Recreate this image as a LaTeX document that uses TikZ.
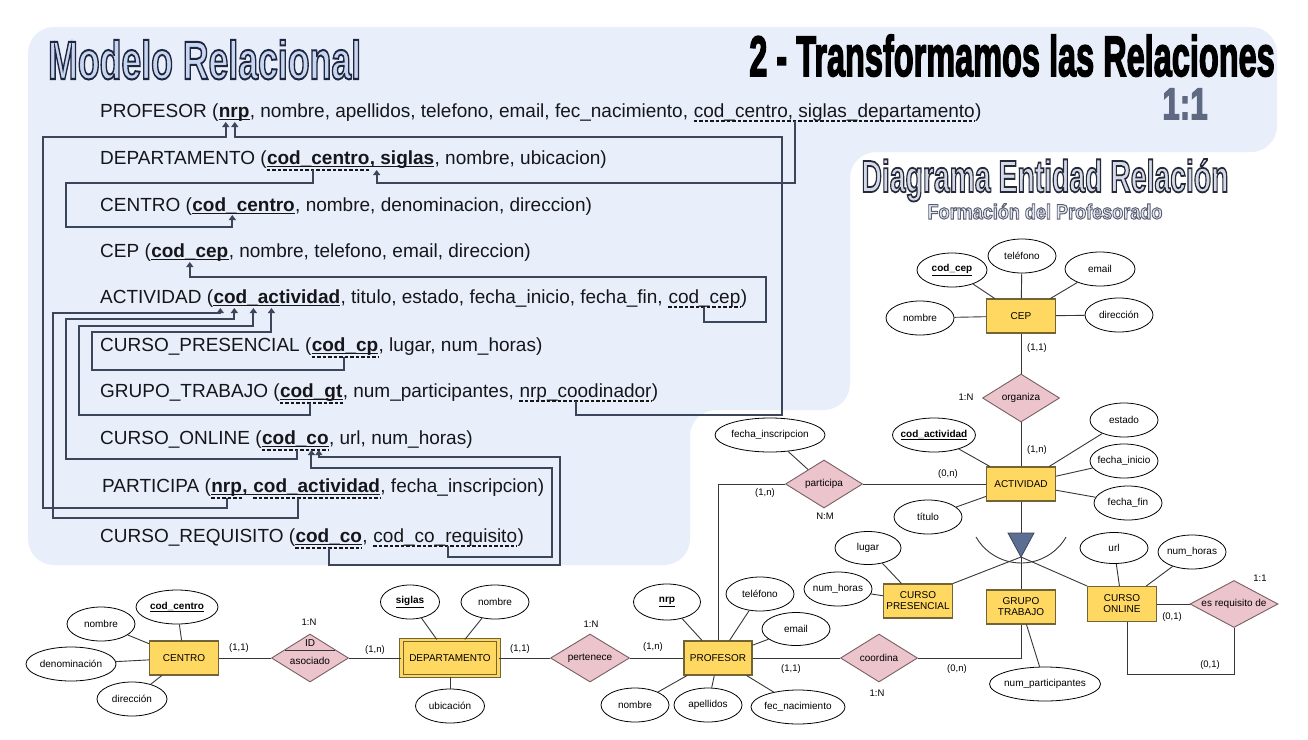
\documentclass[tikz,border=0pt]{standalone}
\usepackage{fontspec}
\setmainfont{Liberation Sans}
\usetikzlibrary{shapes.geometric, arrows.meta, calc}

\definecolor{panelcol}{RGB}{232,238,250}
\definecolor{txtcol}{RGB}{22,22,26}
\definecolor{linkcol}{RGB}{60,70,90}
\definecolor{entfill}{RGB}{255,216,98}
\definecolor{entdraw}{RGB}{115,100,55}
\definecolor{relfill}{RGB}{236,196,204}
\definecolor{reldraw}{RGB}{120,95,100}
\definecolor{erlinecol}{RGB}{55,55,55}
\definecolor{isafill}{RGB}{92,110,145}
\definecolor{mrfill}{RGB}{200,214,240}
\definecolor{derfill}{RGB}{212,218,232}
\definecolor{fpfill}{RGB}{232,234,242}
\definecolor{onecol}{RGB}{95,105,130}

\newcommand{\relfont}{\fontsize{19}{22}\selectfont}
\newcommand{\erfont}{\fontsize{10}{11}\selectfont}
\newcommand{\cardfont}{\fontsize{9.5}{11}\selectfont}
% text filled with colour #1, outlined with the pdf stroke settings #2
\newcommand{\outl}[3]{{\color{#1}\special{pdf:code #2 2 Tr}#3\special{pdf:code 0 Tr}}}

\begin{document}
\begin{tikzpicture}[x=1pt, y=-1pt,
    seg/.style={inner sep=0pt, anchor=base west, font=\relfont, text=txtcol},
    pkey/.style={font=\relfont\bfseries},
    spaced/.style={xshift=5.3pt},
    pkul/.style={draw=txtcol, line width=1.5pt},
    fkul/.style={draw=txtcol, line width=1.2pt, dash pattern=on 3.5pt off 2pt},
    fkarrow/.style={draw=linkcol, line width=2pt, -{Triangle[length=5pt,width=7pt]}},
    ent/.style={rectangle, draw=entdraw, fill=entfill, line width=1.1pt, minimum width=69, minimum height=34, inner sep=0pt, font=\erfont, align=center},
    attr/.style={ellipse, draw=black, fill=white, line width=0.8pt, minimum width=68, minimum height=34, inner xsep=-10pt, inner ysep=0pt, font=\erfont},
    rel/.style={diamond, draw=reldraw, fill=relfill, line width=0.9pt, minimum width=77, minimum height=48, inner sep=0pt},
    card/.style={font=\cardfont, inner sep=0pt},
    erline/.style={draw=erlinecol, line width=0.9pt},
    every label/.style={font=\erfont, inner sep=0pt}]

  \useasboundingbox (0,0) rectangle (1308,739);
  \fill[white] (0,0) rectangle (1308,739);

  % Panel of the relational model
  \fill[panelcol, rounded corners=26pt] (28,27) -- (1277,27) -- (1277,152) -- (850,152) -- (850,410)
    -- (690,410) -- (690,565) -- (28,565) -- cycle;

  % Titles
  \node[anchor=base west, inner sep=0pt] (mrtitle) at (48,79)
    {\fontsize{54}{56}\selectfont\bfseries\scalebox{0.66}[1]{\outl{mrfill}{0.12 0.15 0.25 RG 2 w}{Modelo Relacional}}};
  \node[anchor=base east, inner sep=0pt, text depth=0pt] (trtitle) at (1275,76)
    {\fontsize{57}{60}\selectfont\bfseries\scalebox{0.57}[1]{\outl{black}{0 0 0 RG 1.8 w}{2 - Transformamos las Relaciones}}};
  \node[anchor=base, inner sep=0pt] (onetitle) at (1185,119)
    {\fontsize{44}{46}\selectfont\bfseries\scalebox{0.71}[1]{\outl{onecol}{0.37 0.41 0.51 RG 1.5 w}{1:1}}};
  \node[anchor=base, inner sep=0pt] (dertitle) at (1045,192)
    {\fontsize{45}{48}\selectfont\bfseries\scalebox{0.63}[1]{\outl{derfill}{0.15 0.16 0.22 RG 1.8 w}{Diagrama Entidad Relación}}};
  \node[anchor=base, inner sep=0pt] (fptitle) at (1045,219)
    {\fontsize{21}{24}\selectfont\bfseries\scalebox{0.86}[1]{\outl{fpfill}{0.35 0.37 0.45 RG 1 w}{Formación del Profesorado}}};

  % Relations
  \node[seg] (p0) at (100,117) {PROFESOR (};
  \node[seg, pkey] (pnrp) at (p0.base east) {nrp};
  \node[seg] (p1) at (pnrp.base east) {, nombre, apellidos, telefono, email, fec\_nacimiento,};
  \node[seg, spaced] (pfk) at (p1.base east) {cod\_centro, siglas\_departamento};
  \node[seg] (p2) at (pfk.base east) {)};

  \node[seg] (d0) at (100,164) {DEPARTAMENTO (};
  \node[seg, pkey] (dcc) at (d0.base east) {cod\_centro};
  \node[seg, pkey] (dsg) at (dcc.base east) {, siglas};
  \node[seg] (d1) at (dsg.base east) {, nombre, ubicacion)};

  \node[seg] (c0) at (100,211) {CENTRO (};
  \node[seg, pkey] (ccc) at (c0.base east) {cod\_centro};
  \node[seg] (c1) at (ccc.base east) {, nombre, denominacion, direccion)};

  \node[seg] (e0) at (100,257) {CEP (};
  \node[seg, pkey] (ecep) at (e0.base east) {cod\_cep};
  \node[seg] (e1) at (ecep.base east) {, nombre, telefono, email, direccion)};

  \node[seg] (a0) at (100,303) {ACTIVIDAD (};
  \node[seg, pkey] (aact) at (a0.base east) {cod\_actividad};
  \node[seg] (a1) at (aact.base east) {, titulo, estado, fecha\_inicio, fecha\_fin,};
  \node[seg, spaced] (acep) at (a1.base east) {cod\_cep};
  \node[seg] (a2) at (acep.base east) {)};

  \node[seg] (r0) at (100,351) {CURSO\_PRESENCIAL (};
  \node[seg, pkey] (rcp) at (r0.base east) {cod\_cp};
  \node[seg] (r1) at (rcp.base east) {, lugar, num\_horas)};

  \node[seg] (g0) at (100,397) {GRUPO\_TRABAJO (};
  \node[seg, pkey] (ggt) at (g0.base east) {cod\_gt};
  \node[seg] (g1) at (ggt.base east) {, num\_participantes,};
  \node[seg, spaced] (gnrp) at (g1.base east) {nrp\_coodinador};
  \node[seg] (g2) at (gnrp.base east) {)};

  \node[seg] (o0) at (100,444) {CURSO\_ONLINE (};
  \node[seg, pkey] (oco) at (o0.base east) {cod\_co};
  \node[seg] (o1) at (oco.base east) {, url, num\_horas)};

  \node[seg] (t0) at (102,492) {PARTICIPA (};
  \node[seg, pkey] (tnrp) at (t0.base east) {nrp};
  \node[seg, pkey] (tcm) at (tnrp.base east) {,};
  \node[seg, pkey, spaced] (tact) at (tcm.base east) {cod\_actividad};
  \node[seg] (t1) at (tact.base east) {, fecha\_inscripcion)};

  \node[seg] (q0) at (100,542) {CURSO\_REQUISITO (};
  \node[seg, pkey] (qco) at (q0.base east) {cod\_co};
  \node[seg] (q1) at (qco.base east) {,};
  \node[seg, spaced] (qreq) at (q1.base east) {cod\_co\_requisito};
  \node[seg] (q2) at (qreq.base east) {)};

  % Primary keys
  \foreach \n in {pnrp, ccc, ecep, aact, rcp, ggt, oco, qco}
    \draw[pkul] ([yshift=-2.5pt]\n.base west) -- ([yshift=-2.5pt]\n.base east);
  \draw[pkul] ([yshift=-2.5pt]dcc.base west) -- ([yshift=-2.5pt]dsg.base east);
  \draw[pkul] ([yshift=-2.5pt]tnrp.base west) -- ([yshift=-2.5pt]tact.base east);

  % Foreign keys
  \foreach \n/\d in {pfk/4, acep/4, gnrp/4, qreq/4, dcc/6, rcp/6, ggt/6, oco/6, tnrp/6, tact/6, qco/6}
    \draw[fkul] ([yshift=-\d pt]\n.base west) -- ([yshift=-\d pt]\n.base east);

  % References to PROFESOR
  \coordinate (s1) at ($(tnrp.base west)!0.5!(tnrp.base east)+(0,6)$);
  \coordinate (t1) at ($(pnrp.base west)!0.23!(pnrp.base east)+(0,5)$);
  \draw[fkarrow] (s1) |- (43,508) |- ([yshift=-15pt]t1) -- (t1);
  \coordinate (s2) at ($(gnrp.base west)!0.43!(gnrp.base east)+(0,4)$);
  \coordinate (t2) at ($(pnrp.base west)!0.52!(pnrp.base east)+(0,5)$);
  \draw[fkarrow] (s2) |- (782,415) |- ([yshift=-15pt]t2) -- (t2);

  % References to DEPARTAMENTO and CENTRO
  \coordinate (s3) at ($(pfk.base west)!0.36!(pfk.base east)+(0,4)$);
  \coordinate (t3) at ($(dsg.base west)+(7,6)$);
  \draw[fkarrow] (s3) |- ([yshift=-13pt]t3) -- (t3);
  \coordinate (s4) at ($(dcc.base west)!0.45!(dcc.base east)+(0,6)$);
  \coordinate (t4) at ($(ccc.base west)!0.39!(ccc.base east)+(0,4)$);
  \draw[fkarrow] (s4) |- (66,183) |- ([yshift=-12pt]t4) -- (t4);

  % Reference to CEP
  \coordinate (s5) at ($(acep.base west)!0.49!(acep.base east)+(0,4)$);
  \coordinate (t5) at ($(ecep.base west)!0.5!(ecep.base east)+(0,5)$);
  \draw[fkarrow] (s5) |- (766,322) |- ([yshift=-15pt]t5) -- (t5);

  % References to ACTIVIDAD
  \foreach \src/\sf/\x/\y/\tf/\h in {tact/0.35/53/518/0.055/5, oco/0.53/66/459/0.165/11, ggt/0.48/79/415/0.315/18, rcp/0.48/92/370/0.457/24}
    \draw[fkarrow] ($(\src.base west)!\sf!(\src.base east)+(0,6)$) |- (\x,\y)
      |- ($(aact.base west)!\tf!(aact.base east)+(0,5+\h)$) -- ($(aact.base west)!\tf!(aact.base east)+(0,5)$);

  % References to CURSO_ONLINE
  \draw[fkarrow] ($(qco.base west)!0.5!(qco.base east)+(0,6)$) |- (560,565)
    |- ($(oco.base west)!0.85!(oco.base east)+(0,13)$) -- ($(oco.base west)!0.85!(oco.base east)+(0,6)$);
  \draw[fkarrow] ($(qreq.base west)!0.52!(qreq.base east)+(0,4)$) |- (552,557)
    |- ($(oco.base west)!0.74!(oco.base east)+(0,24)$) -- ($(oco.base west)!0.74!(oco.base east)+(0,6)$);

  % ER: CEP and ACTIVIDAD
  \node[ent] (CEP) at (1021,316) {CEP};
  \node[attr, minimum width=70] (CEPcod) at (952,270) {\underline{\textbf{cod\_cep}}};
  \node[attr] (CEPtel) at (1022,256) {teléfono};
  \node[attr, minimum width=70] (CEPmail) at (1100,269) {email};
  \node[attr] (CEPnom) at (920,318) {nombre};
  \node[attr] (CEPdir) at (1119,315) {dirección};
  \node[rel, label=center:organiza] (ORG) at (1021,398) {};
  \node[ent] (ACT) at (1021,484) {ACTIVIDAD};
  \node[attr, minimum width=83] (ACTcod) at (934,435) {\underline{\textbf{cod\_actividad}}};
  \node[attr] (ACTest) at (1124,420) {estado};
  \node[attr] (ACTini) at (1124,461) {fecha\_inicio};
  \node[attr] (ACTfin) at (1128,503) {fecha\_fin};
  \node[attr] (ACTtit) at (928,517) {título};
  \node[attr, minimum width=110] (PARTfec) at (770,435) {fecha\_inscripcion};
  \node[rel, label=center:participa] (PART) at (824,484) {};

  % ER: subtypes
  \coordinate (ISAtop) at (1021,533);
  \coordinate (ISA) at (1021,557);
  \node[ent] (CPRES) at (918,601) {CURSO\\PRESENCIAL};
  \node[attr, minimum width=66, minimum height=33] (CPlug) at (868,548) {lugar};
  \node[attr] (CPhor) at (838,589) {num\_horas};
  \node[ent] (GTRA) at (1021,607) {GRUPO\\TRABAJO};
  \node[attr, minimum width=111] (GTpart) at (1045,684) {num\_participantes};
  \node[ent, minimum height=35] (CONL) at (1122,604) {CURSO\\ONLINE};
  \node[attr, minimum height=31] (COurl) at (1114,548) {url};
  \node[attr] (COhor) at (1192,552) {num\_horas};
  \node[rel, minimum width=88, minimum height=47, label=center:es requisito de] (REQ) at (1234,604) {};

  % ER: CENTRO, DEPARTAMENTO, PROFESOR
  \node[ent] (CENTRO) at (184,658) {CENTRO};
  \node[attr, minimum width=82] (CENcod) at (177,607) {\underline{\textbf{cod\_centro}}};
  \node[attr] (CENnom) at (101,624) {nombre};
  \node[attr, minimum width=90] (CENden) at (71,664) {denominación};
  \node[attr, minimum width=70] (CENdir) at (132,699) {dirección};
  \node[rel] (ASOC) at (310,658) {};
  \node[font=\erfont, inner sep=0pt] (ASOCid) at (310,643) {ID};
  \node[font=\erfont, inner sep=0pt] (ASOCtx) at (310,661) {asociado};
  \node[ent, minimum width=97, minimum height=36, double=entfill, double distance=2.2pt] (DEPT) at (450,658) {DEPARTAMENTO};
  \node[attr, minimum width=59] (DEPsig) at (410,602) {\underline{\textbf{siglas}}};
  \node[attr] (DEPnom) at (495,602) {nombre};
  \node[attr, minimum width=69] (DEPubi) at (450,706) {ubicación};
  \node[rel, minimum width=79, label=center:pertenece] (PERT) at (590,658) {};
  \node[ent, minimum width=68] (PROF) at (718,658) {PROFESOR};
  \node[attr, minimum width=67, minimum height=36] (PROFnrp) at (667,602) {\underline{\textbf{nrp}}};
  \node[attr] (PROFtel) at (760,594) {teléfono};
  \node[attr, minimum height=33] (PROFmail) at (796,629) {email};
  \node[attr] (PROFnom) at (635,705) {nombre};
  \node[attr] (PROFape) at (708,705) {apellidos};
  \node[attr, minimum width=94] (PROFfec) at (798,707) {fec\_nacimiento};
  \node[rel, label=center:coordina] (COORD) at (879,658) {};

  % ER connectors
  \foreach \i/\j in {CEP/CEPcod, CEP/CEPtel, CEP/CEPmail, CEP/CEPnom, CEP/CEPdir, CEP/ORG, ORG/ACT,
      ACT/ACTcod, ACT/ACTest, ACT/ACTini, ACT/ACTfin, ACT/ACTtit, PART/ACT, PART/PARTfec,
      CPRES/CPlug, CPRES/CPhor, GTRA/GTpart, CONL/COurl, CONL/COhor, CONL/REQ,
      CENTRO/CENcod, CENTRO/CENnom, CENTRO/CENden, CENTRO/CENdir, CENTRO/ASOC, ASOC/DEPT,
      DEPT/DEPsig, DEPT/DEPnom, DEPT/DEPubi, DEPT/PERT, PERT/PROF,
      PROF/PROFnrp, PROF/PROFtel, PROF/PROFmail, PROF/PROFnom, PROF/PROFape, PROF/PROFfec, PROF/COORD}
    \draw[erline] (\i) -- (\j);
  \draw[erline] ([xshift=-25pt,yshift=8pt]ASOC.center) -- ([xshift=25pt,yshift=8pt]ASOC.center);
  \draw[erline] (PART.west) -| (PROF.north);
  \draw[erline] (COORD.east) -| (GTRA.south);
  \draw[erline] ([xshift=5pt]CONL.south) -- ++(0,52) -| (REQ.south);

  % Generalization of ACTIVIDAD
  \draw[erline] (ACT) -- (ISAtop);
  \foreach \j in {CPRES.north east, GTRA.north, CONL.north west}
    \draw[erline] (ISA) -- (\j);
  \draw[erline] (976,537) arc[start angle=150, end angle=30, radius=52];
  \filldraw[fill=isafill, draw=linkcol, line width=0.8pt] (1008,533) -- (1034,533) -- (ISA) -- cycle;

  % Cardinalities
  \foreach \x/\y/\t [count=\k] in {1037/348/{(1,1)}, 966/397/1:N, 1037/450/{(1,n)}, 948/474/{(0,n)},
      765/493/{(1,n)}, 825/516/N:M, 309/622/1:N, 239/648/{(1,1)}, 375/650/{(1,n)}, 520/649/{(1,1)},
      591/624/1:N, 653/647/{(1,n)}, 791/669/{(1,1)}, 957/669/{(0,n)}, 877/693/1:N, 1260/578/1:1,
      1172/617/{(0,1)}, 1210/665/{(0,1)}}
    \node[card] (card\k) at (\x,\y) {\t};

\end{tikzpicture}
\end{document}
